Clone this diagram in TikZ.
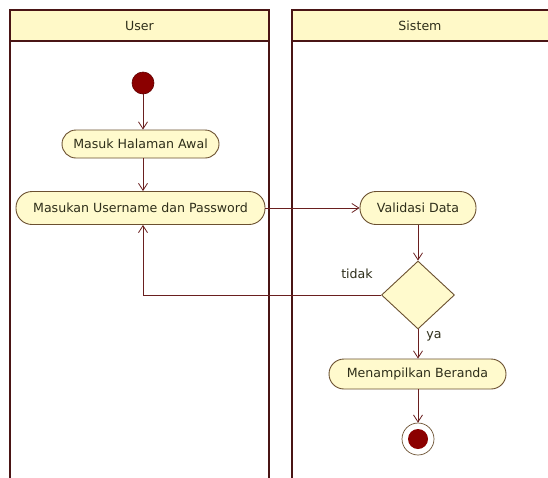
\documentclass[tikz,border=0pt]{standalone}
\usepackage{fontspec}
\setmainfont{DejaVu Sans}
\usetikzlibrary{arrows.meta,shapes.geometric}
\definecolor{lane}{HTML}{4A1515}
\definecolor{hdr}{HTML}{FFF9C8}
\definecolor{nfill}{HTML}{FFFACD}
\definecolor{nborder}{HTML}{6B5030}
\definecolor{flow}{HTML}{6A1F1F}
\definecolor{dot}{HTML}{8B0000}
\definecolor{txt}{HTML}{2E2E1A}
\tikzset{
  action/.style={draw=nborder, fill=nfill, line width=0.9pt, text=txt, inner sep=0pt, font=\fontsize{12.6}{14}\selectfont},
  decision/.style={diamond, draw=nborder, fill=nfill, line width=0.9pt, inner sep=0pt, minimum width=73pt, minimum height=68pt, aspect=1.07},
  flowline/.style={draw=flow, line width=0.8pt, -{Straight Barb[length=7pt,width=9pt]}},
  lanebox/.style={draw=lane, line width=1.8pt},
  lbl/.style={text=txt, font=\fontsize{12.6}{14}\selectfont, inner sep=1pt}
}
\begin{document}
\begin{tikzpicture}[x=1pt,y=-1pt]
\useasboundingbox (0,0) rectangle (548,477);
\fill[white] (0,0) rectangle (548,477);
% lanes
\begin{scope}
\clip (0,0) rectangle (548,477);
\filldraw[lanebox, fill=hdr] (10,10) rectangle (269,41);
\draw[lanebox] (10,41) -- (10,480) (269,41) -- (269,480);
\filldraw[lanebox, fill=hdr] (292,10) rectangle (560,41);
\draw[lanebox] (292,41) -- (292,480);
\end{scope}
\node[lbl] (userh) at (139.5,26) {User};
\node[lbl] (sisth) at (420,26) {Sistem};
% nodes
\node[circle, draw=dot!70!black, fill=dot, minimum size=22pt, inner sep=0pt, line width=0.6pt] (start) at (143,83) {};
\node[action, minimum width=157pt, minimum height=28pt, rounded corners=14pt] (a1) at (140.5,144) {Masuk Halaman Awal};
\node[action, minimum width=249pt, minimum height=33pt, rounded corners=16pt] (a2) at (140.5,208) {Masukan Username dan Password};
\node[action, minimum width=116pt, minimum height=33pt, rounded corners=16pt] (a3) at (418,208) {Validasi Data};
\node[decision] (d) at (418,295) {};
\node[action, minimum width=177pt, minimum height=30pt, rounded corners=15pt] (a4) at (417.5,374) {Menampilkan Beranda};
\node[circle, draw=nborder, fill=white, minimum size=32pt, inner sep=0pt, line width=0.7pt] (end) at (418,439) {};
\node[circle, fill=dot, minimum size=20pt, inner sep=0pt] (endin) at (end.center) {};
% flows
\draw[flowline] (start.south) -- (start.south |- a1.north);
\draw[flowline] (start.south |- a1.south) -- (start.south |- a2.north);
\draw[flowline] (a2) -- (a3);
\draw[flowline] (a3) -- (d);
\draw[flowline] (d) -- (end.center |- a4.north);
\draw[flowline] (end.center |- a4.south) -- (end);
\coordinate (bend) at (143,295);
\draw[flowline] (d.west) -- (bend) -- (bend |- a2.south);
\node[lbl] (tidak) at (357,274) {tidak};
\node[lbl] (ya) at (434,336) {ya};
\end{tikzpicture}
\end{document}
